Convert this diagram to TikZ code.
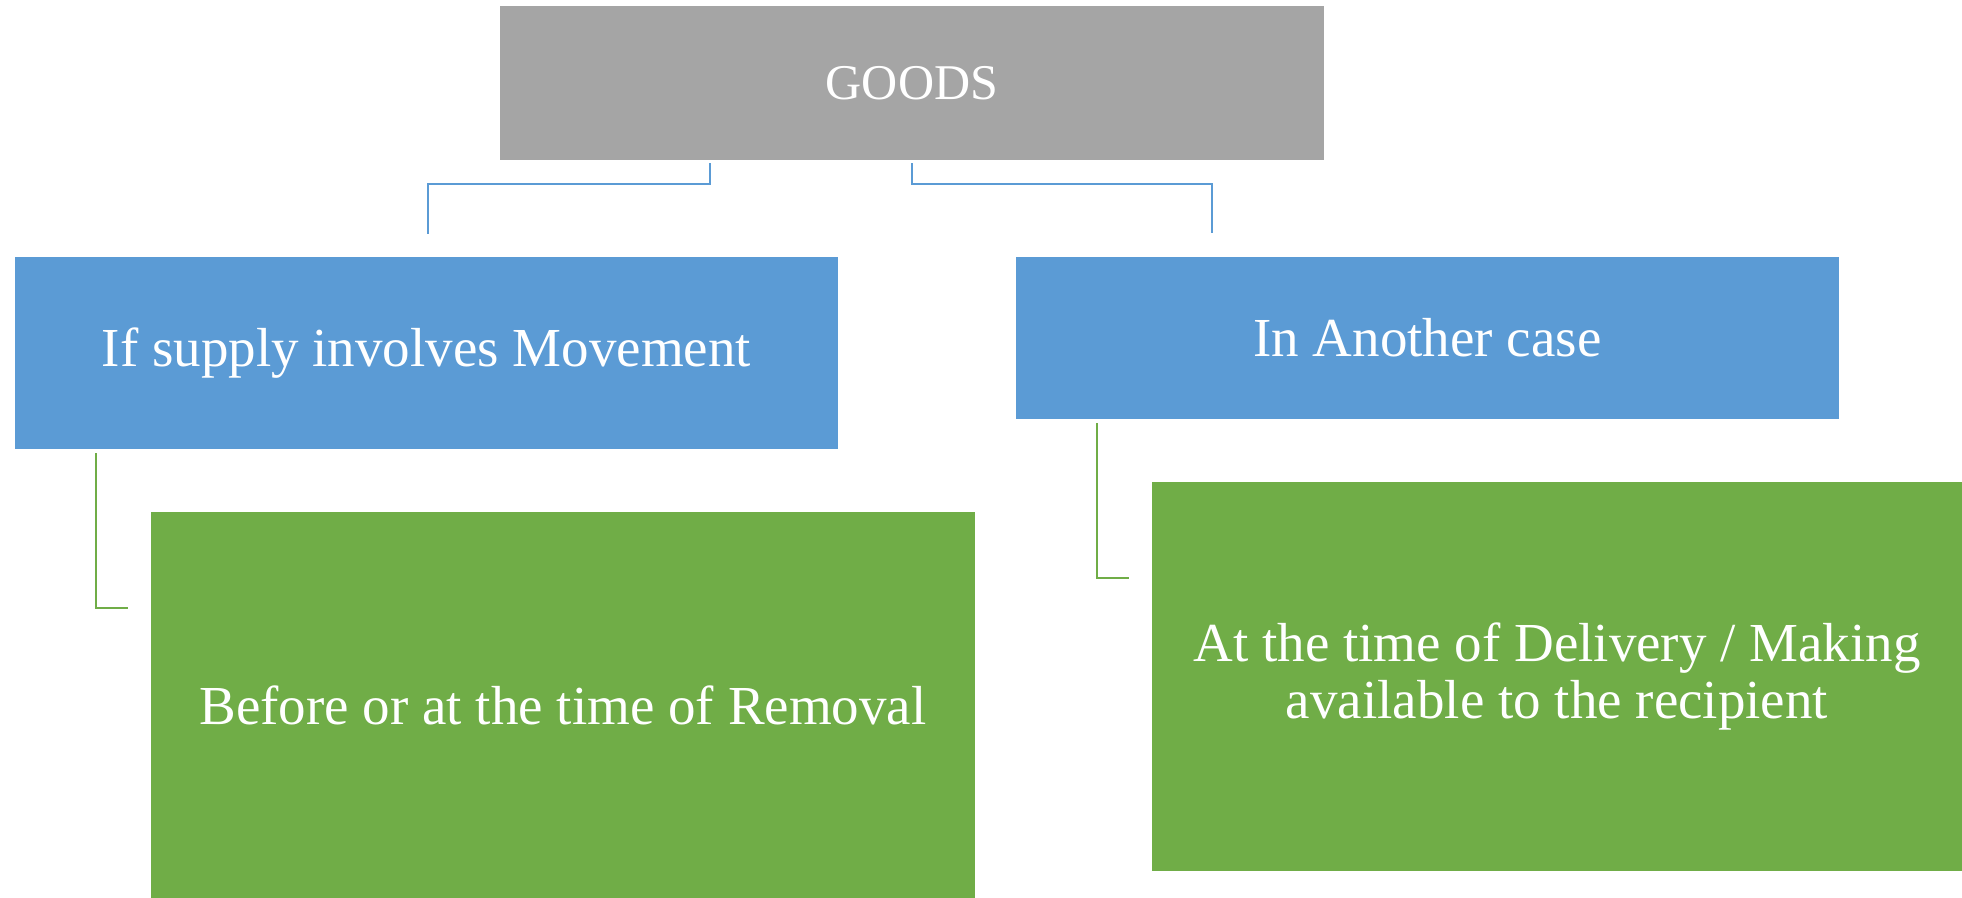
\documentclass[tikz,border=0pt]{standalone}
\usepackage{fontspec}
\setmainfont{Liberation Serif}
\usetikzlibrary{calc}
\definecolor{boxgrey}{HTML}{A5A5A5}
\definecolor{boxblue}{HTML}{5B9BD5}
\definecolor{boxgreen}{HTML}{70AD47}
\tikzset{
  block/.style={rectangle, anchor=north west, inner sep=0pt, outer sep=0pt,
    text=white, align=center, font=\fontsize{55}{60}\selectfont},
  greybox/.style={block, fill=boxgrey, minimum width=824pt, minimum height=154pt,
    font=\fontsize{50}{56}\selectfont},
  bluebox/.style={block, fill=boxblue},
  greenbox/.style={block, fill=boxgreen},
  bluelink/.style={draw=boxblue, line width=2pt},
  greenlink/.style={draw=boxgreen, line width=2pt},
}
\begin{document}
\begin{tikzpicture}[x=1pt, y=-1pt]
  \useasboundingbox (0,0) rectangle (1962,897);
  % top level
  \node[greybox] (goods) at (500,6) {GOODS};
  % second level
  \node[bluebox, minimum width=823pt, minimum height=192pt] (move) at (15,257) {If supply involves Movement};
  \node[bluebox, minimum width=823pt, minimum height=162pt] (other) at (1016,257) {In Another case};
  % third level
  \node[greenbox, minimum width=824pt, minimum height=386pt] (removal) at (151,512) {Before or at the time of Removal};
  \node[greenbox, minimum width=810pt, minimum height=389pt,
        font=\fontsize{55}{57}\selectfont] (delivery) at (1152,482)
        {At the time of Delivery / Making\\available to the recipient};
  % elbow points of the connectors
  \coordinate (g1) at ($(goods.south west)+(210,3)$);
  \coordinate (g2) at ($(goods.south west)+(412,3)$);
  \coordinate (m1) at ($(move.north west)+(413,-23)$);
  \coordinate (o1) at ($(other.north west)+(196,-24)$);
  \coordinate (mb) at ($(move.south west)+(81,4)$);
  \coordinate (ob) at ($(other.south west)+(81,4)$);
  \coordinate (rl) at ($(removal.north west)+(-23,96)$);
  \coordinate (dl) at ($(delivery.north west)+(-23,96)$);
  % connectors
  \draw[bluelink] (g1) -- (g1 |- 0,184) -- (m1 |- 0,184) -- (m1);
  \draw[bluelink] (g2) -- (g2 |- 0,184) -- (o1 |- 0,184) -- (o1);
  \draw[greenlink] (mb) |- (rl);
  \draw[greenlink] (ob) |- (dl);
\end{tikzpicture}
\end{document}
